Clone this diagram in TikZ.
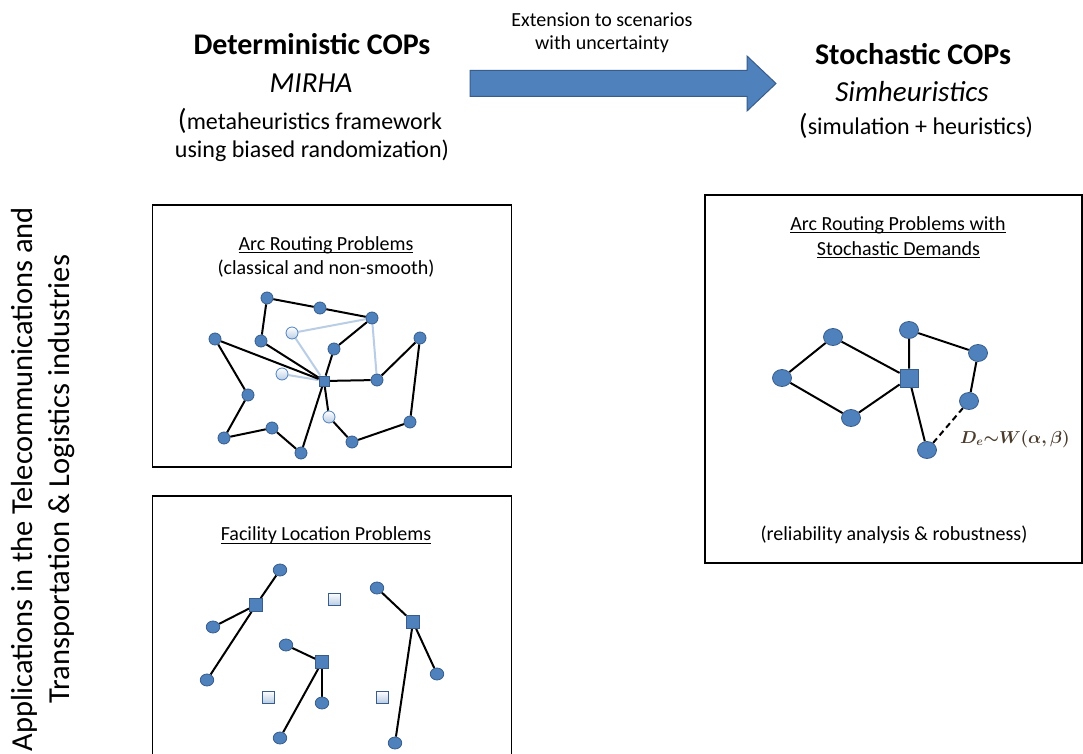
\documentclass[tikz,border=0pt]{standalone}
\usepackage{fontspec}
\setmainfont{Carlito}
\usetikzlibrary{shapes.geometric,backgrounds}
\definecolor{nodefill}{HTML}{4F81BD}
\definecolor{nodeline}{HTML}{385D8A}
\definecolor{lightfill}{HTML}{B9CDE5}
\definecolor{lightedge}{HTML}{B9CDE5}
\definecolor{mathcol}{HTML}{4A3B2C}
\newcommand{\myul}[1]{\leavevmode\setbox0\hbox{#1}\rlap{\rule[-3pt]{\wd0}{1pt}}\box0}
\newcommand{\bigparen}{{\fontsize{29}{29}\selectfont(}}
\begin{document}
\begin{tikzpicture}[x=1pt,y=-1pt,
  cnode/.style={ellipse,draw=nodeline,fill=nodefill,line width=0.8pt,inner sep=0pt,minimum width=12pt,minimum height=12pt},
  lnode/.style={ellipse,draw=nodefill,top color=white,bottom color=lightfill,line width=0.8pt,inner sep=0pt,minimum width=12pt,minimum height=12pt},
  snode/.style={rectangle,draw=nodeline,fill=nodefill,line width=0.8pt,inner sep=0pt,minimum width=10pt,minimum height=10pt},
  fcnode/.style={ellipse,draw=nodeline,fill=nodefill,line width=0.8pt,inner sep=0pt,minimum width=13.5pt,minimum height=12pt},
  fsnode/.style={rectangle,draw=nodeline,fill=nodefill,line width=0.8pt,inner sep=0pt,minimum width=13pt,minimum height=13pt},
  flnode/.style={rectangle,draw=nodeline,top color=white,bottom color=lightfill,line width=1pt,inner sep=0pt,minimum width=12pt,minimum height=12pt},
  bcnode/.style={ellipse,draw=nodeline,fill=nodefill,line width=0.8pt,inner sep=0pt,minimum width=19pt,minimum height=17pt},
  bsnode/.style={rectangle,draw=nodeline,fill=nodefill,line width=0.8pt,inner sep=0pt,minimum width=18pt,minimum height=18pt},
  edgeline/.style={line width=2pt,black},
  lightline/.style={line width=2pt,lightedge},
  frame/.style={line width=1.3pt,black},
  boxtext/.style={font=\fontsize{20}{24}\selectfont,inner sep=0pt,anchor=base},
  headbold/.style={font=\fontsize{30}{36}\bfseries\selectfont,inner sep=0pt,anchor=base},
  headit/.style={font=\fontsize{29}{34}\itshape\selectfont,inner sep=0pt,anchor=base},
  headpar/.style={font=\fontsize{24}{28}\selectfont,inner sep=0pt,anchor=base},
  mathlabel/.style={inner sep=0pt,anchor=base west,text=mathcol,font=\fontsize{18}{20}\selectfont\boldmath}
]
\useasboundingbox (0,0) rectangle (1083,754);

% headers
\node[headbold] (dcop) at (312,55) {Deterministic COPs};
\node[headit] (mirha) at (311,93) {MIRHA};
\node[headpar] (meta1) at (310,130) {\bigparen metaheuristics framework};
\node[headpar] (meta2) at (312,158) {using biased randomization)};

\node[headbold] (scop) at (913,65) {Stochastic COPs};
\node[headit] (simh) at (912,102) {Simheuristics};
\node[headpar] (simp) at (916,135) {\bigparen simulation + heuristics)};

\node[boxtext] (ext1) at (602,27) {Extension to scenarios};
\node[boxtext] (ext2) at (602,50) {with uncertainty};

% big arrow
\filldraw[fill=nodefill,draw=nodeline,line width=1pt]
  (470,70.5) -- (747,70.5) -- (747,56) -- (776,83.5) -- (747,111) -- (747,96.5) -- (470,96.5) -- cycle;

% vertical text
\node[rotate=90,inner sep=0pt,font=\fontsize{30.5}{37}\selectfont,align=center] (apps) at (43.5,479)
  {Applications in the Telecommunications and\\Transportation \& Logistics industries};

% frames
\draw[frame] (152.5,205) rectangle (511.5,467);
\draw[frame] (152.5,496) rectangle (511.5,770);
\draw[frame] (705,195) rectangle (1082,563);

% box 1: arc routing
\node[boxtext] (t1a) at (326,250) {\myul{Arc Routing Problems}};
\node[boxtext] (t1b) at (326,274) {(classical and non-smooth)};

\node[cnode] (A) at (267,298) {};
\node[cnode] (B) at (320,308) {};
\node[cnode] (C) at (372,318) {};
\node[lnode] (D) at (292,333) {};
\node[cnode] (E) at (215,339) {};
\node[cnode] (F) at (261,341) {};
\node[cnode] (G) at (334,349) {};
\node[cnode] (H) at (420,338) {};
\node[lnode] (I) at (282,374) {};
\node[snode] (Dep) at (324,381) {};
\node[cnode] (J) at (377,380) {};
\node[cnode] (K) at (248,395) {};
\node[lnode] (L) at (329,417) {};
\node[cnode] (M) at (410,422) {};
\node[cnode] (N) at (272,428) {};
\node[cnode] (O) at (224,438) {};
\node[cnode] (P) at (352,442) {};
\node[cnode] (Q) at (301,453) {};

% box 2: facility location
\node[boxtext] (t2) at (326,540.5) {\myul{Facility Location Problems}};
\node[fcnode] (f1) at (280,570) {};
\node[fsnode] (fs1) at (256,605) {};
\node[fcnode] (f2) at (213,627) {};
\node[fcnode] (f3) at (207,680) {};
\node[flnode] (fl1) at (334,599) {};
\node[fcnode] (f4) at (377,588) {};
\node[fsnode] (fs3) at (413,622) {};
\node[fcnode] (f5) at (437,674) {};
\node[fcnode] (f6) at (395,743) {};
\node[fcnode] (f7) at (286,645) {};
\node[fsnode] (fs2) at (322,662) {};
\node[fcnode] (f8) at (322,703) {};
\node[fcnode] (f9) at (280,738) {};
\node[flnode] (fl2) at (268,697) {};
\node[flnode] (fl3) at (382,697) {};

% box 3: stochastic
\node[boxtext] (t3a) at (898,230) {\myul{Arc Routing Problems with}};
\node[boxtext] (t3b) at (898.5,255) {\myul{Stochastic Demands}};
\node[boxtext] (t3c) at (894,540.5) {(reliability analysis \& robustness)};

\node[bcnode] (sa) at (782,378) {};
\node[bcnode] (sb) at (833,337) {};
\node[bcnode] (sc) at (851,418) {};
\node[bsnode] (ssq) at (909,378) {};
\node[bcnode] (sd) at (909,330) {};
\node[bcnode] (se) at (978,353) {};
\node[bcnode] (sf) at (969,401) {};
\node[bcnode] (sg) at (927,450) {};
\node[mathlabel] (lab) at (960,443) {$D_e\mathord{\sim} W(\alpha,\beta)$};

\begin{pgfonlayer}{background}
  \fill[white] (0,0) rectangle (1083,754);
  \draw[lightline] (D) -- (C);
  \draw[lightline] (D) -- (Dep);
  \draw[lightline] (I) -- (Dep);
  \draw[lightline] (C) -- (J);
  \draw[edgeline] (A) -- (B) -- (C);
  \draw[edgeline] (A) -- (F) -- (Dep);
  \draw[edgeline] (C) -- (G) -- (Dep);
  \draw[edgeline] (E) -- (Dep);
  \draw[edgeline] (E) -- (K) -- (O) -- (N) -- (Q) -- (Dep);
  \draw[edgeline] (Dep) -- (J) -- (H) -- (M) -- (P) -- (L) -- (Dep);

  \draw[edgeline] (fs1) -- (f1);
  \draw[edgeline] (fs1) -- (f2);
  \draw[edgeline] (fs1) -- (f3);
  \draw[edgeline] (fs3) -- (f4);
  \draw[edgeline] (fs3) -- (f5);
  \draw[edgeline] (fs3) -- (f6);
  \draw[edgeline] (fs2) -- (f7);
  \draw[edgeline] (fs2) -- (f8);
  \draw[edgeline] (fs2) -- (f9);

  \draw[edgeline] (sa) -- (sb) -- (ssq);
  \draw[edgeline] (sa) -- (sc) -- (ssq);
  \draw[edgeline] (ssq) -- (sd) -- (se) -- (sf);
  \draw[edgeline] (ssq) -- (sg);
  \draw[edgeline,dashed,dash pattern=on 6pt off 4pt] (sg) -- (sf);
\end{pgfonlayer}
\end{tikzpicture}
\end{document}
